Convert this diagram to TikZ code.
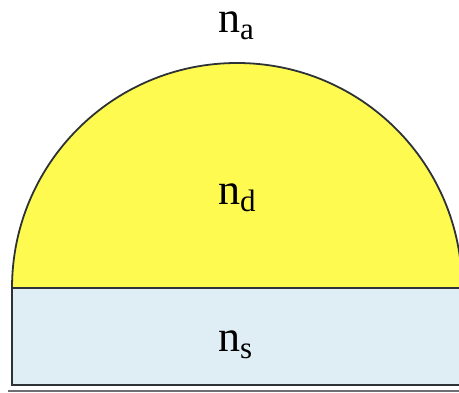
\documentclass[tikz,border=0pt]{standalone}
\usepackage{fontspec}
\setmainfont{Liberation Serif}
\usetikzlibrary{positioning}
\definecolor{lens}{RGB}{255, 250, 80}
\definecolor{subst}{RGB}{222, 238, 244}
\definecolor{edge}{RGB}{45, 50, 55}
\definecolor{rule}{RGB}{110, 110, 115}
\newcommand{\idx}[2]{#1\raisebox{-7pt}{\fontsize{31}{31}\selectfont #2}}

\begin{document}
\begin{tikzpicture}[
  x=1pt, y=1pt,
  every node/.style={font=\fontsize{44}{44}\selectfont},
  lbl/.style={anchor=base west, inner sep=0pt},
  outline/.style={draw=edge, line width=1.8pt},
]
\useasboundingbox (0,0) rectangle (459,393);
\clip (0,0) rectangle (459,393);

% Substrate and droplet
\filldraw[outline, fill=subst] (12,8) rectangle (470,105);
\draw[edge, line width=2.8pt] (12,8) -- (470,8);
\filldraw[outline, fill=lens] (12,105) arc[start angle=180, end angle=0, radius=225] -- cycle;
\draw[rule, line width=1.8pt] (8,2) -- (470,2);

% Labels
\node[lbl] (na) at (218,360) {\idx{n}{a}};
\node[lbl] (nd) at (218,188) {\idx{n}{d}};
\node[lbl] (ns) at (218,41) {\idx{n}{s}};

\end{tikzpicture}
\end{document}
